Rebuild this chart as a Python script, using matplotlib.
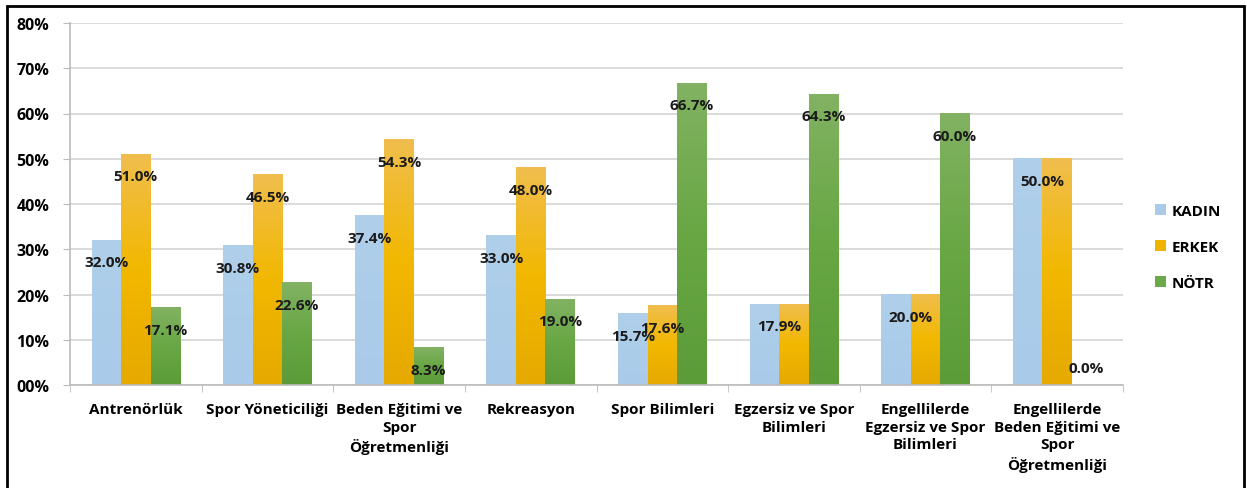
import numpy as np
import matplotlib.pyplot as plt
from matplotlib.colors import LinearSegmentedColormap
from matplotlib.patches import Rectangle

categories = ["Antrenörlük", "Spor Yöneticiliği", "Beden Eğitimi ve\nSpor\nÖğretmenliği",
              "Rekreasyon", "Spor Bilimleri", "Egzersiz ve Spor\nBilimleri",
              "Engellilerde\nEgzersiz ve Spor\nBilimleri",
              "Engellilerde\nBeden Eğitimi ve\nSpor\nÖğretmenliği"]
kadin = [32.0, 30.8, 37.4, 33.0, 15.7, 17.9, 20.0, 50.0]
erkek = [51.0, 46.5, 54.3, 48.0, 17.6, 17.9, 20.0, 50.0]
notr = [17.1, 22.6, 8.3, 19.0, 66.7, 64.3, 60.0, 0.0]
series = ["KADIN", "ERKEK", "NÖTR"]
yticks = [0, 10, 20, 30, 40, 50, 60, 70, 80]

plt.rcParams['font.family'] = ['Open Sans', 'DejaVu Sans']
plt.rcParams['font.weight'] = 'bold'

fig = plt.figure(figsize=(12.47, 4.89), dpi=100)
ax = fig.add_axes([70/1247, 1-386/489, (1123-70)/1247, (386-24)/489])

# gradient colour maps (bottom -> top)
cmaps = [
    LinearSegmentedColormap.from_list('k', ['#a9cbe9', '#afcfea']),
    LinearSegmentedColormap.from_list('e', ['#e6a900', '#f2b800', '#f0be4e']),
    LinearSegmentedColormap.from_list('n', ['#5c9c38', '#68a744', '#82b262']),
]
legend_cols = ['#a9cbe9', '#f0b400', '#6aa84a']

w = 0.224
x = np.arange(len(categories))
grad = np.linspace(0, 1, 100).reshape(-1, 1)
for i, vals in enumerate([kadin, erkek, notr]):
    for xi, v in zip(x + (i - 1) * w, vals):
        if v > 0:
            ax.imshow(grad, extent=(xi - w/2, xi + w/2, 0, v), origin='lower',
                      aspect='auto', cmap=cmaps[i], zorder=2)
    ax.bar([0], [0], color=legend_cols[i], label=series[i])

lab = dict(textcoords='offset points', ha='center', va='center',
           fontsize=11, color='#1a1a1a', zorder=5)
# data labels (inside end); equal pairs share one label
for j in range(len(categories)):
    if kadin[j] == erkek[j]:
        ax.annotate(f"{kadin[j]:.1f}%", (x[j] - w/2, kadin[j]), xytext=(0, -16), **lab)
    else:
        for i, vals in enumerate([kadin, erkek]):
            ax.annotate(f"{vals[j]:.1f}%", (x[j] + (i - 1) * w, vals[j]), xytext=(0, -16), **lab)
    off = -16 if notr[j] > 0 else 12
    ax.annotate(f"{notr[j]:.1f}%", (x[j] + w, notr[j]), xytext=(0, off), **lab)

ax.set_xlim(-0.5, len(categories) - 0.5)
ax.set_ylim(0, 80)
ax.set_yticks(yticks)
ax.set_yticklabels([f"{t:02d}%" for t in yticks], fontsize=11.5)
ax.set_xticks(x)
ax.set_xticklabels(categories, fontsize=11, linespacing=1.35)
ax.set_xticks(np.arange(len(categories) + 1) - 0.5, minor=True)
ax.tick_params(axis='x', which='major', length=0, pad=12)
ax.tick_params(axis='x', which='minor', length=5, color='#bbbbbb', direction='out')
ax.tick_params(axis='y', length=5, color='#bbbbbb', pad=10)
ax.grid(axis='y', color='#d4d4d4', linewidth=1.2, zorder=0)
ax.set_axisbelow(True)
for s in ['top', 'right']:
    ax.spines[s].set_visible(False)
for s in ['left', 'bottom']:
    ax.spines[s].set_color('#bbbbbb')
    ax.spines[s].set_linewidth(1.2)

fig.legend(loc='center left', bbox_to_anchor=(1149/1247, 1 - 248/489), frameon=False,
           fontsize=11, handlelength=0.7, handleheight=0.7, handletextpad=0.35,
           labelspacing=1.45, borderaxespad=0)

fig.patches.append(Rectangle((7/1247, -0.05), (1244-7)/1247, 1.05 - 7/489,
                             transform=fig.transFigure, fill=False,
                             edgecolor='black', linewidth=2))

fig.savefig('out.png', dpi=100)
